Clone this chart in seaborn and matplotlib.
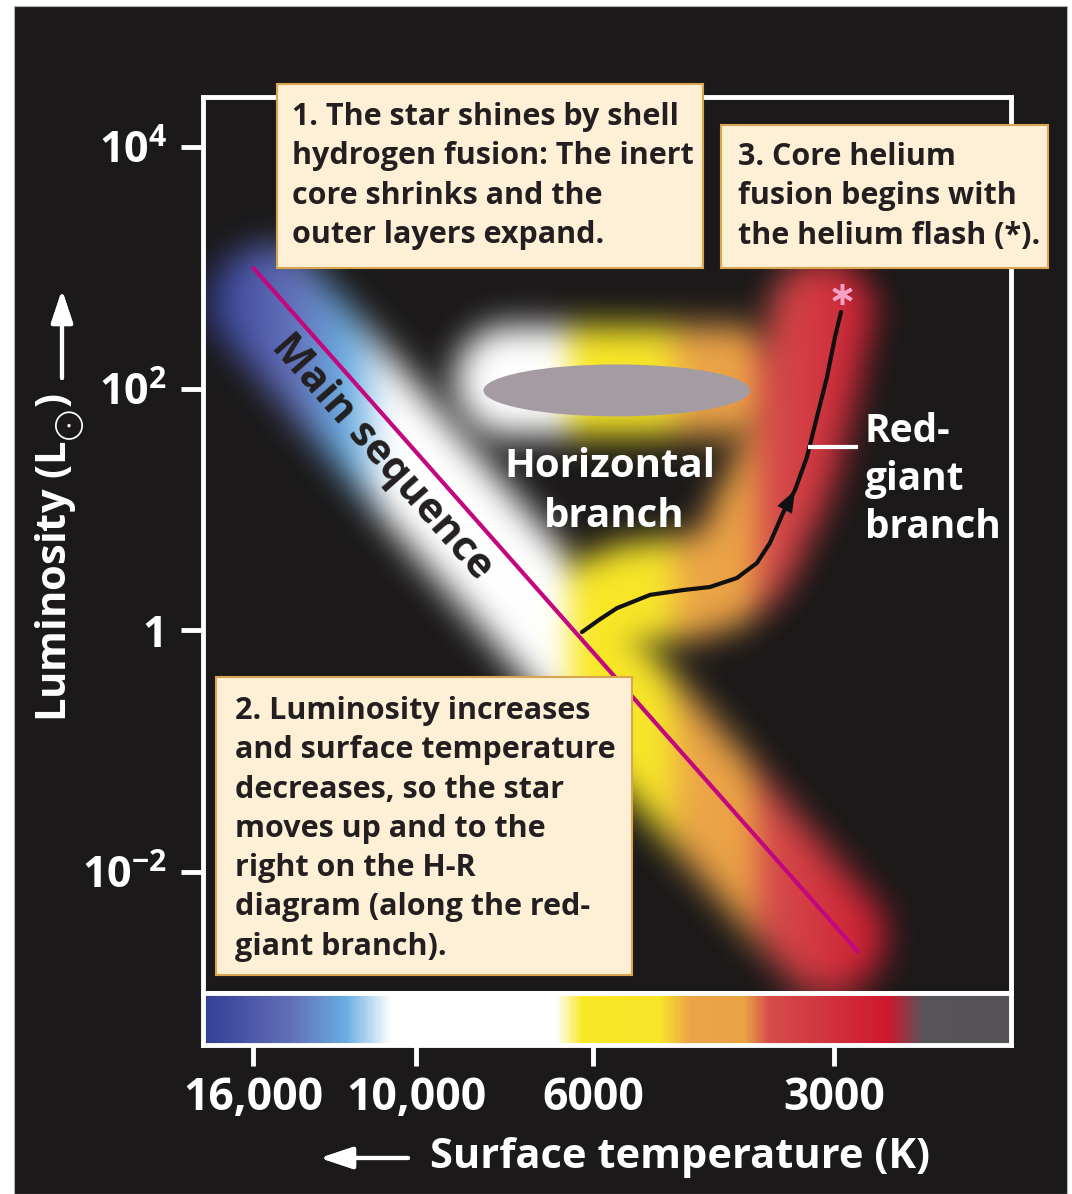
import numpy as np
import matplotlib
matplotlib.use('Agg')
import matplotlib.pyplot as plt
import seaborn as sns
from matplotlib.colors import LinearSegmentedColormap, to_rgb
from matplotlib.patches import Rectangle, Ellipse
from matplotlib.ticker import NullLocator

# ---- values ----
temp_ticks = [16000, 10000, 6000, 3000]
temp_tick_labels = ['16,000', '10,000', '6000', '3000']
lum_ticks = [1e4, 1e2, 1, 1e-2]
lum_tick_labels = [r'$\mathbf{10^{4}}$', r'$\mathbf{10^{2}}$', '1', r'$\mathbf{10^{-2}}$']
temp_range = (18500, 1800)
lum_range = (1e-3, 2.6e4)

# main sequence (end points)
ms_temp = [16000, 2800]
ms_lum = [1000, 0.0022]

# red-giant track, from the main sequence up to the helium flash
rgb_temp = [6203, 5888, 5608, 5098, 4636, 4289, 3967, 3745, 3607, 3474,
            3356, 3242, 3150, 3060, 2990, 2939]
rgb_lum = [0.97, 1.24, 1.53, 1.97, 2.16, 2.29, 2.72, 3.62, 5.30, 9.38,
           14.5, 27.3, 58.4, 125, 268, 432]

flash_temp, flash_lum = 2930, 610   # helium flash (*)
hb_temp, hb_lum = 5610, 97          # horizontal-branch clump

box1_lines = ["1. The star shines by shell", "hydrogen fusion: The inert",
              "core shrinks and the", "outer layers expand."]
box2_lines = ["2. Luminosity increases", "and surface temperature",
              "decreases, so the star", "moves up and to the",
              "right on the H-R", "diagram (along the red-", "giant branch)."]
box3_lines = ["3. Core helium", "fusion begins with", "the helium flash (*)."]

# temperature colour strip (position along the axis -> colour)
strip_pos = [0, 0.108, 0.176, 0.231, 0.436, 0.470, 0.566, 0.603, 0.671,
             0.702, 0.801, 0.850, 0.894, 1.0]
strip_col = ['#343f98', '#6370b8', '#6aaee2', '#ffffff', '#ffffff', '#f9e825',
             '#f7e52a', '#eca548', '#eba245', '#d64d4b', '#d02a3a', '#d0182f',
             '#58565a', '#555357']

BG = '#1b1919'
TXT = '#231f20'

sns.set_theme(style='dark', rc={'axes.facecolor': BG, 'figure.facecolor': 'white'})
plt.rcParams['font.family'] = ['Open Sans', 'DejaVu Sans']
plt.rcParams['font.weight'] = 'bold'
plt.rcParams['mathtext.fontset'] = 'custom'
plt.rcParams['mathtext.rm'] = 'Open Sans'
plt.rcParams['mathtext.bf'] = 'Open Sans:bold'
plt.rcParams['mathtext.default'] = 'bf'

W, H = 1072, 1194
fig = plt.figure(figsize=(W / 100, H / 100), dpi=100)
fig.add_artist(Rectangle((14 / W, 0), 1053 / W, 1188 / H, transform=fig.transFigure,
                         facecolor=BG, edgecolor='#b0b0b0', lw=0.8, zorder=-10))

ax = fig.add_axes([203 / W, 1 - 993 / H, 808 / W, 896 / H])
ax_cb = fig.add_axes([203 / W, 1 - 1045 / H, 808 / W, 52 / H], sharex=ax)
ax.set_xscale('log')
ax.set_yscale('log')
ax.set_xlim(temp_range)
ax.set_ylim(lum_range)
ax_cb.set_ylim(0, 1)
ax.set_autoscale_on(False)
ax_cb.set_autoscale_on(False)

cmap = LinearSegmentedColormap.from_list('temp', list(zip(strip_pos, strip_col)))

# ---- glow behind the tracks, coloured by temperature ----
def fall(d, r0, r1):
    t = np.clip((d - r0) / (r1 - r0), 0, 1)
    return 1 - t * t * (3 - 2 * t)

def poly_dist(px, py, pts):
    best = np.full(px.shape, np.inf)
    for (x0, y0), (x1, y1) in zip(pts[:-1], pts[1:]):
        vx, vy = x1 - x0, y1 - y0
        t = np.clip(((px - x0) * vx + (py - y0) * vy) / (vx * vx + vy * vy), 0, 1)
        best = np.minimum(best, np.hypot(px - (x0 + t * vx), py - (y0 + t * vy)))
    return best

def blur(a, sigma):
    r = int(3 * sigma)
    k = np.exp(-0.5 * (np.arange(-r, r + 1) / sigma) ** 2)
    k /= k.sum()
    for axis in (0, 1):
        pad = [(0, 0)] * a.ndim
        pad[axis] = (r, r)
        p = np.pad(a, pad, mode='edge')
        a = np.apply_along_axis(lambda v: np.convolve(v, k, mode='valid'), axis, p)
    return a

bb = ax.get_window_extent()
nx, ny = int(bb.width) // 2, int(bb.height) // 2
GX, GY = np.meshgrid(np.linspace(bb.x0, bb.x1, nx), np.linspace(bb.y1, bb.y0, ny))

ms_px = ax.transData.transform(np.column_stack([ms_temp, ms_lum]))
u = (ms_px[1] - ms_px[0]) / np.linalg.norm(ms_px[1] - ms_px[0])
nrm = np.array([u[1], -u[0]])
ms_band = np.array([ms_px[0] + 35 * u, ms_px[1] - 30 * u]) + 12 * nrm
m_ms = fall(poly_dist(GX, GY, ms_band), 32, 82)

rgb_px = ax.transData.transform(np.column_stack([rgb_temp, rgb_lum]))
m_rgb = fall(poly_dist(GX, GY, rgb_px - [18, 0]), 28, 75)

ELL_W, ELL_H = 0.33, 0.058
hb_px = ax.transData.transform([(hb_temp, hb_lum)])[0]
ew = ELL_W * bb.width
hb_band = np.array([hb_px + [-0.40 * ew, 10], hb_px + [0.42 * ew, 10]])
m_hb = fall(poly_dist(GX, GY, hb_band), 30, 80)

mask = np.maximum(np.maximum(m_ms, m_rgb), m_hb)[..., None]
col = cmap((GX - bb.x0) / bb.width)[..., :3]
img = np.array(to_rgb(BG)) * (1 - mask) + col * mask
img = np.clip(blur(img, 6), 0, 1)
ax.imshow(img, extent=(0, 1, 0, 1), transform=ax.transAxes, aspect='auto',
          interpolation='bilinear', zorder=0)

# colour strip under the diagram
ax_cb.imshow(np.linspace(0, 1, 600)[None, :], cmap=cmap, extent=(0, 1, 0, 1),
             transform=ax_cb.transAxes, aspect='auto', zorder=0)

# horizontal-branch clump
hb_ax = ax.transAxes.inverted().transform(hb_px)
ax.add_patch(Ellipse(hb_ax, ELL_W, ELL_H, transform=ax.transAxes,
                     facecolor='#a59ca3', edgecolor='none', zorder=3))

# main sequence and red-giant track
sns.lineplot(x=ms_temp, y=ms_lum, ax=ax, color='#c3077e', linewidth=3, sort=False, zorder=4)
sns.lineplot(x=rgb_temp, y=rgb_lum, ax=ax, color='#111111', linewidth=3, sort=False, zorder=4)
ax.annotate('', xy=(rgb_temp[10], rgb_lum[10]), xytext=(rgb_temp[9], rgb_lum[9]),
            arrowprops=dict(arrowstyle='-|>,head_length=0.8,head_width=0.3', color='#111111',
                            lw=0, shrinkA=0, shrinkB=0, mutation_scale=20), zorder=5)
ax.plot([flash_temp], [flash_lum], marker=(6, 2, 0), markersize=15, mew=2.5,
        color='#f5a0c4', zorder=6)

# labels inside the diagram
ang = np.degrees(np.arctan2(ms_px[1][1] - ms_px[0][1], ms_px[1][0] - ms_px[0][0]))
ax.text(0.2215, 0.598, 'Main sequence', transform=ax.transAxes, rotation=ang,
        rotation_mode='anchor', ha='center', va='center', fontsize=30, color=TXT, zorder=6)
ax.text(0.5037, 0.5759, 'Horizontal', transform=ax.transAxes, ha='center',
        va='baseline', fontsize=29, color='white', zorder=6)
ax.text(0.5087, 0.5201, 'branch', transform=ax.transAxes, ha='center',
        va='baseline', fontsize=29, color='white', zorder=6)
for i, s in enumerate(['Red-', 'giant', 'branch']):
    ax.text(0.8193, 0.6150 - i * 0.0536, s, transform=ax.transAxes, ha='left',
            va='baseline', fontsize=28, color='white', zorder=6)
ax.plot([0.7488, 0.8106], [0.6094, 0.6094], transform=ax.transAxes, color='white',
        lw=3, solid_capstyle='butt', zorder=6)

# numbered notes
LINE = 0.04386

def note_box(x0, y0, x1, y1, tx, ty, lines):
    ax.add_patch(Rectangle((x0, y0), x1 - x0, y1 - y0, transform=ax.transAxes,
                           facecolor='#fdf0d6', edgecolor='#d9a54e', lw=1.5,
                           zorder=8, clip_on=False))
    for i, s in enumerate(lines):
        ax.text(tx, ty - i * LINE, s, transform=ax.transAxes, ha='left', va='baseline',
                fontsize=22, color=TXT, zorder=9, clip_on=False)

note_box(0.0916, 0.8092, 0.6188, 1.0145, 0.1101, 0.96875, box1_lines)
note_box(0.6411, 0.8092, 1.0458, 0.9688, 0.6621, 0.9241, box3_lines)
note_box(0.0161, 0.0201, 0.5309, 0.3527, 0.0396, 0.3058, box2_lines)

# axes, ticks and frame
ax.set_yticks(lum_ticks, labels=lum_tick_labels)
ax.yaxis.set_minor_locator(NullLocator())
ax_cb.set_xticks(temp_ticks, labels=temp_tick_labels)
ax_cb.xaxis.set_minor_locator(NullLocator())
ax.tick_params(axis='y', left=True, colors='white', length=16, width=3.5, pad=10, labelsize=31)
ax.tick_params(axis='x', bottom=False, labelbottom=False)
ax_cb.tick_params(axis='x', bottom=True, colors='white', length=15, width=3.5, pad=7, labelsize=32)
ax_cb.tick_params(axis='y', left=False, labelleft=False)
ax.set_xlabel('')
ax.set_ylabel('')
for a in (ax, ax_cb):
    a.grid(False)
    for sp in a.spines.values():
        sp.set_visible(True)
        sp.set_color('white')
        sp.set_linewidth(3.5)
ax.set_xlim(temp_range)
ax.set_ylim(lum_range)
ax_cb.set_ylim(0, 1)

fig.text(680 / W, 1 - 1168 / H, 'Surface temperature (K)', ha='center', va='baseline',
         fontsize=30, color='white')
fig.text(60 / W, 1 - 557 / H, r'Luminosity (L$_{_{\bigodot}}$)', rotation=90, ha='center',
         va='center', fontsize=30, color='white')
arrow = dict(arrowstyle='-|>,head_length=0.9,head_width=0.3', color='white', lw=3,
             mutation_scale=22, shrinkA=0, shrinkB=0)
fig.add_artist(plt.annotate('', xy=(320 / W, 1 - 1158 / H), xytext=(408 / W, 1 - 1158 / H),
                            xycoords='figure fraction', arrowprops=arrow))
fig.add_artist(plt.annotate('', xy=(62 / W, 1 - 290 / H), xytext=(62 / W, 1 - 378 / H),
                            xycoords='figure fraction', arrowprops=arrow))

fig.savefig('out.png', dpi=100, facecolor='white')
